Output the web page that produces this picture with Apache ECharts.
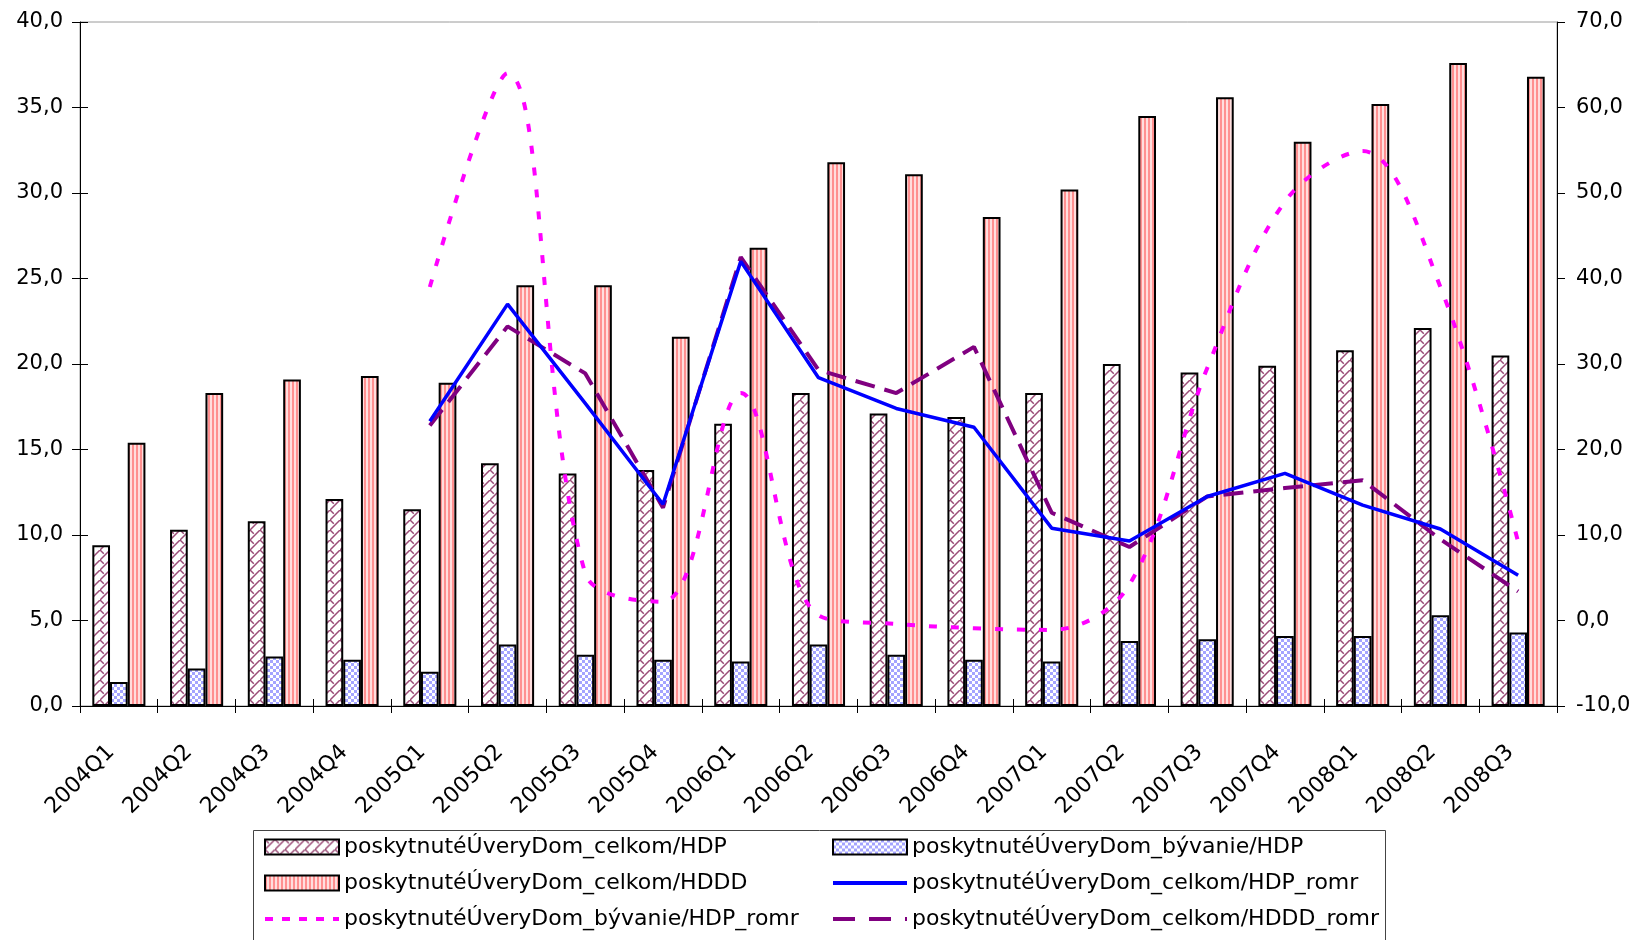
<!DOCTYPE html>
<html>
<head>
<meta charset="utf-8">
<script src="https://cdn.jsdelivr.net/npm/echarts@6/dist/echarts.min.js"></script>
<style>
  html, body { margin: 0; padding: 0; background: #fff; }
  #chart { width: 1635px; height: 940px; }
</style>
</head>
<body>
<div id="chart"></div>
<script>
// Quarters on the category axis
const categories = ['2004Q1','2004Q2','2004Q3','2004Q4','2005Q1','2005Q2','2005Q3','2005Q4',
  '2006Q1','2006Q2','2006Q3','2006Q4','2007Q1','2007Q2','2007Q3','2007Q4','2008Q1','2008Q2','2008Q3'];

// Bars, left axis (%)
const celkomHDP = [9.4,10.3,10.8,12.1,11.5,14.2,13.6,13.8,16.5,18.3,17.1,16.9,18.3,20.0,19.5,19.9,20.8,22.1,20.5];
const byvanieHDP = [1.4,2.2,2.9,2.7,2.0,3.6,3.0,2.7,2.6,3.6,3.0,2.7,2.6,3.8,3.9,4.1,4.1,5.3,4.3];
const celkomHDDD = [15.4,18.3,19.1,19.3,18.9,24.6,24.6,21.6,26.8,31.8,31.1,28.6,30.2,34.5,35.6,33.0,35.2,37.6,36.8];

// Year-on-year growth lines, right axis (%)
const celkomHDPromr = [null,null,null,null,23.3,37.0,25.4,13.6,42.0,28.4,24.8,22.6,10.8,9.3,14.5,17.2,13.5,10.7,5.3];
const byvanieHDPromr = [null,null,null,null,39.0,64.0,5.5,2.2,26.6,0.6,-0.4,-0.9,-1.1,4.2,29.5,49.0,54.9,39.0,9.2];
const celkomHDDDromr = [null,null,null,null,22.8,34.4,28.9,13.2,42.5,29.3,26.6,32.0,12.6,8.6,14.5,15.5,16.4,9.5,3.4];

// Axis tick settings
const leftTicks = { min: 0, max: 40, interval: 5 };
const rightTicks = { min: -10, max: 70, interval: 10 };

const names = [
  'poskytnutéÚveryDom_celkom/HDP',
  'poskytnutéÚveryDom_bývanie/HDP',
  'poskytnutéÚveryDom_celkom/HDDD',
  'poskytnutéÚveryDom_celkom/HDP_romr',
  'poskytnutéÚveryDom_bývanie/HDP_romr',
  'poskytnutéÚveryDom_celkom/HDDD_romr'
];

const FONT = 'DejaVu Sans';

function tile(w, h, draw) {
  const c = document.createElement('canvas');
  c.width = w; c.height = h;
  draw(c.getContext('2d'));
  return c;
}

// Lattice fill for the total-loans bars
const latticeTile = tile(10, 10, ctx => {
  ctx.fillStyle = '#fff';
  ctx.fillRect(0, 0, 10, 10);
  ctx.strokeStyle = '#9b4d78';
  ctx.lineWidth = 1.5;
  ctx.beginPath();
  ctx.moveTo(-1, 11); ctx.lineTo(11, -1);
  ctx.moveTo(0, 0); ctx.lineTo(3.8, 3.8);
  ctx.stroke();
});
// Checker fill for housing loans
const checkerTile = tile(6, 6, ctx => {
  ctx.fillStyle = '#fff';
  ctx.fillRect(0, 0, 6, 6);
  ctx.fillStyle = '#a4a4ff';
  ctx.fillRect(0, 0, 3, 3);
  ctx.fillRect(3, 3, 3, 3);
});
// Vertical stripes for loans / disposable income
const stripeTile = tile(4, 1, ctx => {
  ctx.fillStyle = '#ffdede';
  ctx.fillRect(0, 0, 4, 1);
  ctx.fillStyle = '#ff9090';
  ctx.fillRect(0, 0, 2, 1);
});

const fmt = v => v.toFixed(1).replace('.', ',');
const textBase = { fontFamily: FONT, fontSize: 21, color: '#000' };

const barBase = {
  type: 'bar',
  yAxisIndex: 0,
  barWidth: 17.7,
  barGap: '0%',
  z: 2
};

// line legend entries show the stroke only
const lineLegend = (name, dash) => ({
  name: name,
  itemStyle: { opacity: 0 },
  lineStyle: { width: 4, type: dash }
});

const legendBase = {
  top: 836, orient: 'vertical', padding: 0,
  itemWidth: 74, itemHeight: 15, itemGap: 14, selectedMode: false,
  textStyle: { fontFamily: FONT, fontSize: 22, color: '#000' }
};

const chart = echarts.init(document.getElementById('chart'), null, { renderer: 'canvas' });

chart.setOption({
  animation: false,
  backgroundColor: '#fff',
  grid: {
    left: 80, right: 78, top: 22, bottom: 234,
    show: true, borderColor: '#9a9a9a', borderWidth: 1, backgroundColor: 'transparent'
  },
  legend: [
    Object.assign({}, legendBase, {
      left: 263,
      data: [
        { name: names[0], icon: 'rect' },
        { name: names[2], icon: 'rect' },
        lineLegend(names[4], [8, 9])
      ]
    }),
    Object.assign({}, legendBase, {
      left: 831,
      data: [
        { name: names[1], icon: 'rect' },
        lineLegend(names[3], 'solid'),
        lineLegend(names[5], [22, 14])
      ]
    })
  ],
  graphic: [
    {
      type: 'rect', left: 253, top: 830, z: -1,
      shape: { width: 1132, height: 130 },
      style: { fill: '#fff', stroke: '#444', lineWidth: 1 }
    }
  ],
  xAxis: [
    {
      type: 'category', data: categories, boundaryGap: true,
      axisLine: { show: true, onZero: false, lineStyle: { color: '#000', width: 1 } },
      axisTick: { show: true, length: 7, lineStyle: { color: '#000' } },
      axisLabel: Object.assign({}, textBase, { fontSize: 22, rotate: 45, margin: 35, interval: 0, padding: [0, 11, 0, 0] }),
      splitLine: { show: false }
    },
    {
      // inner half of the crossing ticks
      type: 'category', data: categories, boundaryGap: true, position: 'bottom',
      axisLine: { show: false, onZero: false },
      axisTick: { show: true, inside: true, length: 7, lineStyle: { color: '#000' } },
      axisLabel: { show: false },
      splitLine: { show: false }
    }
  ],
  yAxis: [
    Object.assign({
      type: 'value', position: 'left',
      axisLine: { show: true, onZero: false, lineStyle: { color: '#000', width: 1 } },
      axisTick: { show: true, length: 8, lineStyle: { color: '#000' } },
      axisLabel: Object.assign({ formatter: fmt, margin: 17 }, textBase),
      splitLine: { show: false }
    }, leftTicks),
    Object.assign({
      type: 'value', position: 'right',
      axisLine: { show: true, onZero: false, lineStyle: { color: '#000', width: 1 } },
      axisTick: { show: true, length: 8, lineStyle: { color: '#000' } },
      axisLabel: Object.assign({ formatter: fmt, margin: 19 }, textBase),
      splitLine: { show: false }
    }, rightTicks),
    Object.assign({
      // inner half of the crossing ticks on the left axis
      type: 'value', position: 'left',
      axisLine: { show: false, onZero: false },
      axisTick: { show: true, inside: true, length: 8, lineStyle: { color: '#000' } },
      axisLabel: { show: false },
      splitLine: { show: false }
    }, leftTicks)
  ],
  series: [
    Object.assign({}, barBase, {
      name: names[0], data: celkomHDP,
      itemStyle: { color: { image: latticeTile, repeat: 'repeat' }, borderColor: '#000', borderWidth: 2 }
    }),
    Object.assign({}, barBase, {
      name: names[1], data: byvanieHDP,
      itemStyle: { color: { image: checkerTile, repeat: 'repeat' }, borderColor: '#000', borderWidth: 2 }
    }),
    Object.assign({}, barBase, {
      name: names[2], data: celkomHDDD,
      itemStyle: { color: { image: stripeTile, repeat: 'repeat' }, borderColor: '#000', borderWidth: 2 }
    }),
    {
      name: names[3], type: 'line', yAxisIndex: 1, data: celkomHDPromr,
      symbol: 'none', connectNulls: false, z: 5,
      lineStyle: { color: '#0000ff', width: 3.5 },
      itemStyle: { color: '#0000ff' }
    },
    {
      name: names[4], type: 'line', yAxisIndex: 1, data: byvanieHDPromr,
      symbol: 'none', smooth: 0.35, z: 4,
      lineStyle: { color: '#ff00ff', width: 4, type: [8, 14] },
      itemStyle: { color: '#ff00ff' }
    },
    {
      name: names[5], type: 'line', yAxisIndex: 1, data: celkomHDDDromr,
      symbol: 'none', z: 4,
      lineStyle: { color: '#800080', width: 4, type: [20, 10] },
      itemStyle: { color: '#800080' }
    }
  ]
});
</script>
</body>
</html>
